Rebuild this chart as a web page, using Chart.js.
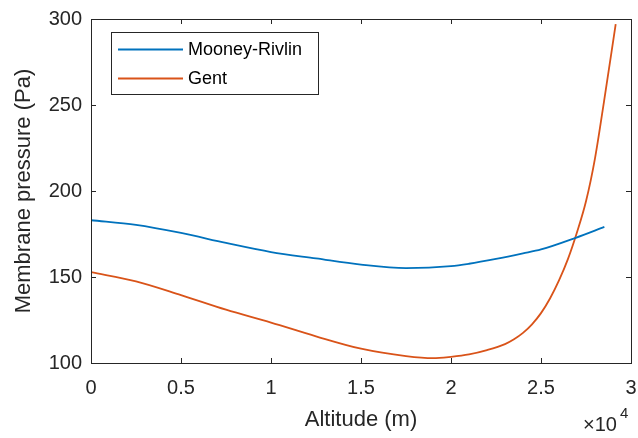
<!DOCTYPE html>
<html>
<head>
<meta charset="utf-8">
<script src="https://cdn.jsdelivr.net/npm/chart.js@4.4.0/dist/chart.umd.min.js"></script>
<style>
  html, body { margin: 0; padding: 0; background: #fff; }
  #wrap { width: 638px; height: 438px; }
</style>
</head>
<body>
<div id="wrap"><canvas id="myChart" width="638" height="438"></canvas></div>
<script>
// data (altitude in m, pressure in Pa)
var altMooney = [0, 2500, 5000, 7500, 10000, 12500, 15000, 17500, 20000, 21000, 22500, 24000, 25000, 26930, 28520];
var presMooney = [183.0, 180.3, 175.6, 169.8, 164.5, 160.8, 157.2, 155.2, 156.3, 157.7, 160.5, 163.7, 166.0, 172.8, 179.1];

var altGent = [0, 2500, 5000, 7500, 10000, 12500, 15000, 17500, 19000, 20000, 21000, 22000, 23000, 23500, 24000, 24500, 25000, 25500, 26000, 26500, 27000, 27500, 28000, 28500, 29150];
var presGent = [152.8, 147.5, 139.5, 131.0, 123.5, 115.5, 108.3, 104.0, 102.8, 103.6, 105.0, 107.5, 111.0, 113.8, 117.5, 122.5, 129.0, 137.5, 148.0, 160.5, 176.0, 194.0, 219.0, 252.0, 297.0];

var labelMooney = 'Mooney-Rivlin';
var labelGent = 'Gent';
var xTicks = [0, 5000, 10000, 15000, 20000, 25000, 30000];
var yTicks = [100, 150, 200, 250, 300];

var txtColor = '#262626';
var fontFam = '"Liberation Sans", Arial, Helvetica, sans-serif';

function toPoints(xs, ys){
	var pts = [];
	for(let i=0;i<xs.length;i++){
		pts.push({x: xs[i], y: ys[i]});
	}
	return pts;
}

// box, inward ticks, legend and the x10^4 exponent, matlab style
const matlabBox = {
	id: 'matlabBox',
	afterDraw(chart){
		const c = chart.ctx;
		const a = chart.chartArea;
		const xs = chart.scales.x;
		const ys = chart.scales.y;
		c.save();
		c.strokeStyle = txtColor;
		c.lineWidth = 1;
		c.strokeRect(Math.round(a.left)+0.5, Math.round(a.top)+0.5, Math.round(a.right-a.left), Math.round(a.bottom-a.top));
		c.beginPath();
		for(let v of xTicks){
			let px = Math.round(xs.getPixelForValue(v))+0.5;
			c.moveTo(px, a.bottom); c.lineTo(px, a.bottom-5);
			c.moveTo(px, a.top); c.lineTo(px, a.top+5);
		}
		for(let v of yTicks){
			let py = Math.round(ys.getPixelForValue(v))+0.5;
			c.moveTo(a.left, py); c.lineTo(a.left+5, py);
			c.moveTo(a.right, py); c.lineTo(a.right-5, py);
		}
		c.stroke();

		// exponent label
		c.fillStyle = txtColor;
		c.textBaseline = 'alphabetic';
		c.textAlign = 'left';
		c.font = '20px ' + fontFam;
		c.fillText('\u00d710', 583, 431);
		c.font = '15px ' + fontFam;
		c.fillText('4', 620, 418);

		// legend
		const lx = 111.5, ly = 32.5, lw = 207, lh = 62;
		c.fillStyle = '#fff';
		c.fillRect(lx, ly, lw, lh);
		c.strokeStyle = txtColor;
		c.strokeRect(lx, ly, lw, lh);
		const rows = [49.5, 78.5];
		chart.data.datasets.forEach(function(ds, i){
			c.strokeStyle = ds.borderColor;
			c.lineWidth = 2;
			c.beginPath();
			c.moveTo(118, rows[i]); c.lineTo(183, rows[i]);
			c.stroke();
			c.fillStyle = '#000';
			c.font = '18px ' + fontFam;
			c.textBaseline = 'middle';
			c.fillText(ds.label, 188, rows[i]+1);
		});
		c.restore();
	}
};

const ctx = document.getElementById('myChart');
var chart1 = new Chart(ctx, {
	type: 'line',
	data: {
		datasets: [{
			label: labelMooney,
			data: toPoints(altMooney, presMooney),
			borderColor: '#0072BD',
			backgroundColor: '#0072BD',
			borderWidth: 1.8,
			pointRadius: 0,
			cubicInterpolationMode: 'monotone'
		}, {
			label: labelGent,
			data: toPoints(altGent, presGent),
			borderColor: '#D95319',
			backgroundColor: '#D95319',
			borderWidth: 1.8,
			pointRadius: 0,
			cubicInterpolationMode: 'monotone'
		}]
	},
	options: {
		responsive: false,
		animation: false,
		layout: { padding: { top: 19, right: 7, left: 0, bottom: 0 } },
		plugins: { legend: { display: false }, tooltip: { enabled: false } },
		scales: {
			x: {
				type: 'linear',
				min: 0,
				max: 30000,
				afterFit: function(s){ s.height = 75; s.paddingRight = 0; s.paddingLeft = 0; },
				afterBuildTicks: function(s){ s.ticks = xTicks.map(v => ({value: v})); },
				grid: { drawOnChartArea: false, drawTicks: false },
				border: { display: false },
				ticks: {
					padding: 13,
					color: txtColor,
					font: { family: fontFam, size: 20 },
					maxRotation: 0,
					autoSkip: false,
					callback: function(v){ return String(v/10000); }
				},
				title: {
					display: true,
					text: 'Altitude (m)',
					color: txtColor,
					font: { family: fontFam, size: 22 },
					padding: { top: 0, bottom: 5 }
				}
			},
			y: {
				min: 100,
				max: 300,
				afterFit: function(s){ s.width = 91; s.paddingTop = 0; s.paddingBottom = 0; },
				afterBuildTicks: function(s){ s.ticks = yTicks.map(v => ({value: v})); },
				grid: { drawOnChartArea: false, drawTicks: false },
				border: { display: false },
				ticks: {
					padding: 9,
					color: txtColor,
					font: { family: fontFam, size: 20 }
				},
				title: {
					display: true,
					text: 'Membrane pressure (Pa)',
					color: txtColor,
					font: { family: fontFam, size: 22 },
					padding: { top: 11, bottom: 0 }
				}
			}
		}
	},
	plugins: [matlabBox]
});
</script>
</body>
</html>
